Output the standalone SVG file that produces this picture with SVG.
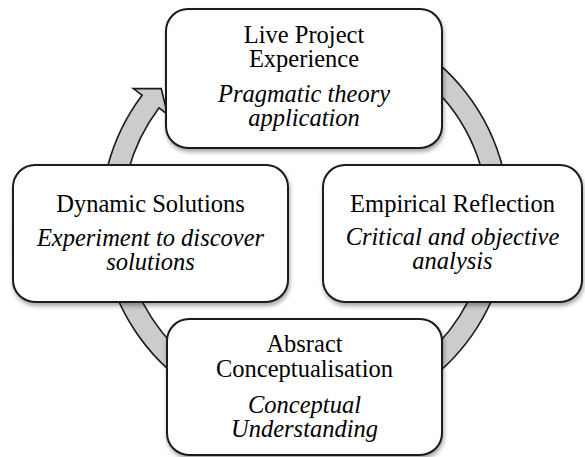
<svg xmlns="http://www.w3.org/2000/svg" width="585" height="457" viewBox="0 0 585 457">
<style>
.box{fill:#ffffff;stroke:#1a1a1a;stroke-width:2;filter:url(#sh)}
text{font-family:"Liberation Serif","Times New Roman",Times,Tinos,"Noto Serif","DejaVu Serif",FreeSerif,serif;font-size:24.5px;fill:#000;text-anchor:middle}
.i{font-style:italic}
.ring{fill:#cccccc;stroke:#1a1a1a;stroke-width:1.6;stroke-linejoin:miter}
</style>
<defs>
<filter id="sh" x="-10%" y="-10%" width="120%" height="125%">
<feDropShadow dx="1" dy="3" stdDeviation="2.2" flood-color="#000" flood-opacity="0.35"/>
</filter>
</defs>
<rect width="585" height="457" fill="#ffffff"/>
<g id="connectors">
<path class="ring" d="M 407,41.3 A 204 204 0 1 1 142.1,95.2 L 133.3,88.6 L 161.2,88.5 L 167.6,114.5 L 158.9,107.9 A 183 183 0 1 0 396.5,59.5 Z"/>
</g>
<g id="node-live">
<rect class="box" x="166" y="9" width="276" height="139" rx="22"/>
<text x="304" y="43">Live Project</text>
<text x="304" y="67">Experience</text>
<text class="i" x="304" y="102">Pragmatic theory</text>
<text class="i" x="304" y="126">application</text>
</g>
<g id="node-empirical">
<rect class="box" x="323" y="165" width="259" height="137" rx="22"/>
<text x="452.5" y="212">Empirical Reflection</text>
<text class="i" x="452.5" y="245">Critical and objective</text>
<text class="i" x="452.5" y="269">analysis</text>
</g>
<g id="node-dynamic">
<rect class="box" x="13" y="165" width="275" height="137" rx="22"/>
<text x="150.5" y="212">Dynamic Solutions</text>
<text class="i" x="150.5" y="246">Experiment to discover</text>
<text class="i" x="150.5" y="270">solutions</text>
</g>
<g id="node-abstract">
<rect class="box" x="167" y="319" width="275" height="136" rx="22"/>
<text x="304.5" y="352">Absract</text>
<text x="304.5" y="377">Conceptualisation</text>
<text class="i" x="304.5" y="413">Conceptual</text>
<text class="i" x="304.5" y="437">Understanding</text>
</g>
</svg>
